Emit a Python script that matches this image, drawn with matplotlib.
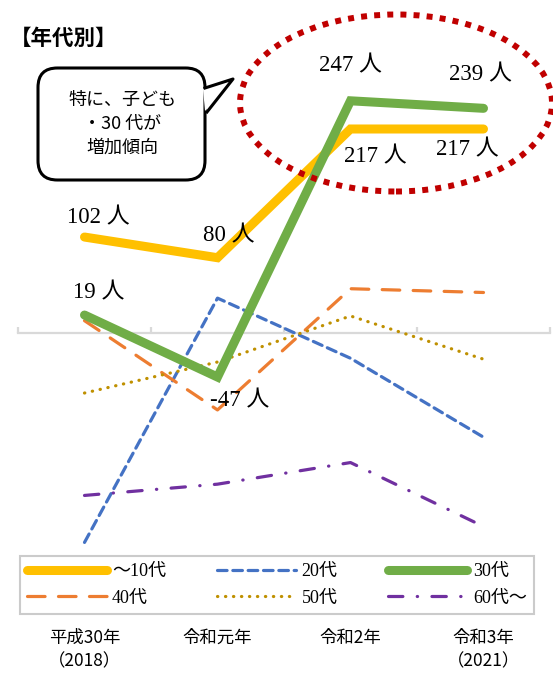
import matplotlib
matplotlib.use("Agg")
import matplotlib.pyplot as plt
from matplotlib.patches import Ellipse, FancyBboxPatch, Polygon
from matplotlib.lines import Line2D

plt.rcParams['font.family'] = ['Noto Sans CJK JP', 'DejaVu Sans']
SERIF = ['Liberation Serif', 'Noto Sans CJK JP']

# --- data ---
years = ['平成30年\n（2018）', '令和元年', '令和2年', '令和3年\n（2021）']
s_10 = [102, 80, 217, 217]
s_20 = [-223, 37, -27, -111]
s_30 = [19, -47, 247, 239]
s_40 = [13, -82, 47, 43]
s_50 = [-64, -31, 18, -28]
s_60 = [-173, -161, -138, -206]
lab_10 = ['102 人', '80 人', '217 人', '217 人']
lab_30 = ['19 人', '-47 人', '247 人', '239 人']

W, H = 553, 673
fig = plt.figure(figsize=(W / 100, H / 100), dpi=100)

def fx(x):
    return x / W

def fy(y):
    return 1 - y / H

ax = fig.add_axes([fx(18), fy(549), fx(550) - fx(18), fy(20) - fy(549)])
ax.set_xlim(-0.5, 3.5)
ax.set_ylim(-230, 333)
for s in ['top', 'right', 'left']:
    ax.spines[s].set_visible(False)
ax.spines['bottom'].set_position(('data', 0))
ax.spines['bottom'].set_color('#D9D9D9')
ax.spines['bottom'].set_linewidth(1.6)
ax.set_yticks([])
ax.set_xticks([-0.5, 0.5, 1.5, 2.5, 3.5])
ax.tick_params(axis='x', direction='in', length=4, width=1.6, color='#D9D9D9',
               labelbottom=False)
ax.patch.set_alpha(0)

x = range(len(years))
l10, = ax.plot(x, s_10, color='#FFC000', lw=6.5, solid_capstyle='round',
               solid_joinstyle='miter', label='～10代', zorder=4)
l30, = ax.plot(x, s_30, color='#70AD47', lw=6.5, solid_capstyle='round',
               solid_joinstyle='miter', label='30代', zorder=5)
l20, = ax.plot(x, s_20, color='#4472C4', lw=2.3, ls=(0, (3, 1.8)),
               dash_capstyle='round', label='20代', zorder=3)
l40, = ax.plot(x, s_40, color='#ED7D31', lw=2.3, ls=(0, (5.5, 4.2)),
               dash_capstyle='round', label='40代', zorder=3)
l50, = ax.plot(x, s_50, color='#BF9000', lw=2.3, ls=(0, (0.1, 2.4)),
               dash_capstyle='round', label='50代', zorder=3)
l60, = ax.plot(x, s_60, color='#7030A0', lw=2.3, ls=(0, (4.5, 4.5, 0.1, 4.5)),
               dash_capstyle='round', label='60代～', zorder=3)

# value labels (offsets in points)
off10 = [(10, 14), (8, 16), (18, -20), (-12, -15)]
off30 = [(10, 16), (16, -17), (0, 25), (-2, 24)]
for i in x:
    ax.annotate(lab_10[i], (i, s_10[i]), xytext=off10[i], textcoords='offset points',
                ha='center', va='center', fontsize=16.5, family=SERIF, zorder=6)
    ax.annotate(lab_30[i], (i, s_30[i]), xytext=off30[i], textcoords='offset points',
                ha='center', va='center', fontsize=16.5, family=SERIF, zorder=6)

# category labels under the legend
for i, t in enumerate(years):
    ax.text(i, -(629 - 549) / (549 - 20), t, transform=ax.get_xaxis_transform(),
            ha='center', va='top', fontsize=12.5, linespacing=1.35)

# legend
handles = [l10, l40, l20, l50, l30, l60]
leg = fig.legend(handles=handles, labels=[h.get_label() for h in handles], ncol=3,
                 loc='lower left', mode='expand',
                 bbox_to_anchor=(fx(20), fy(614), fx(534) - fx(20), fy(549) - fy(614)),
                 bbox_transform=fig.transFigure, frameon=True, fancybox=False,
                 handlelength=4.4, handletextpad=0.3, borderaxespad=0,
                 labelspacing=0.55, prop={'family': SERIF, 'size': 13})
leg.get_frame().set_edgecolor('#BFBFBF')
leg.get_frame().set_linewidth(1.5)

# title
fig.text(fx(10), fy(38), '【年代別】', fontsize=15.5, fontweight='bold',
         ha='left', va='center')

# red dotted ellipse
fig.add_artist(Ellipse((fx(396), fy(103)), fx(312), 177 / H, transform=fig.transFigure,
                       fill=False, edgecolor='#C00000', lw=4.3, ls=(0, (1, 1.2)),
                       zorder=2))

# speech bubble
box = FancyBboxPatch((fx(38), fy(180)), fx(205) - fx(38), fy(68) - fy(180),
                     boxstyle='round,pad=0,rounding_size=0.035',
                     transform=fig.transFigure, facecolor='white',
                     edgecolor='black', lw=2.2, zorder=5,
                     mutation_aspect=W / H)
fig.add_artist(box)
fig.add_artist(Polygon([(fx(203), fy(89)), (fx(233), fy(79)), (fx(205), fy(111))],
                       closed=True, transform=fig.transFigure, facecolor='white',
                       edgecolor='none', zorder=6))
fig.add_artist(Line2D([fx(205), fx(233), fx(207)], [fy(88), fy(79), fy(112)],
                      transform=fig.transFigure, color='black', lw=2.2, zorder=7))
fig.text(fx(122), fy(124), '特に、子ども\n・30 代が\n増加傾向', fontsize=13,
         ha='center', va='center', linespacing=1.4, zorder=8)

fig.savefig('out.png', dpi=100)
